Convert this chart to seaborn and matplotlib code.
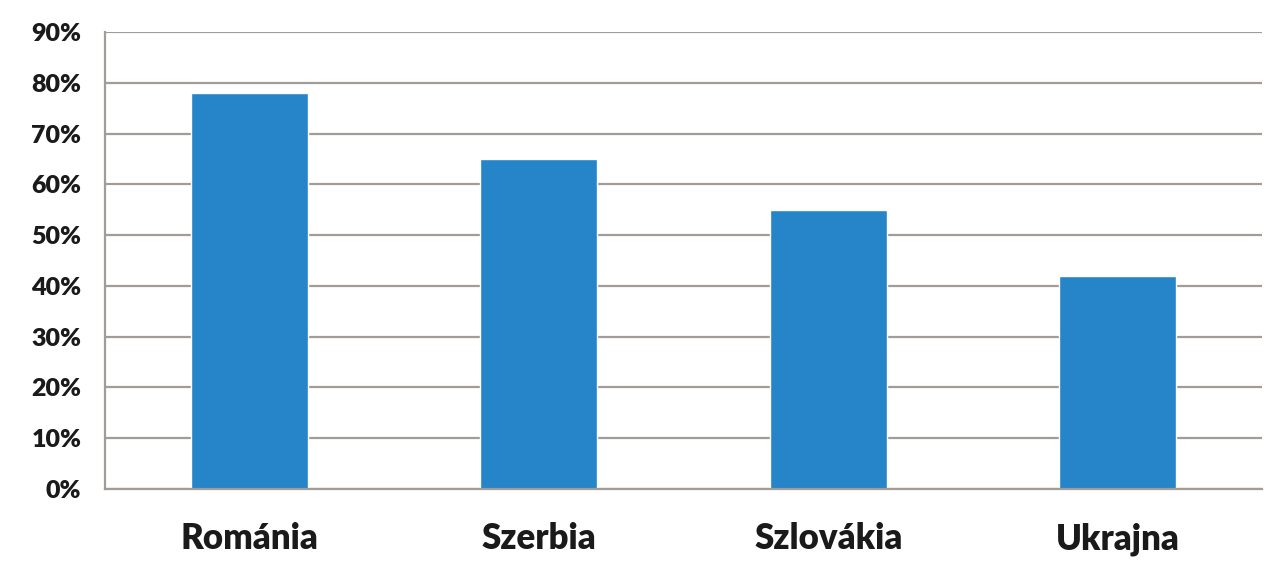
import matplotlib
matplotlib.use("Agg")
import matplotlib.pyplot as plt
import seaborn as sns
import pandas as pd
from matplotlib.ticker import FixedLocator, PercentFormatter

orszagok = ["Románia", "Szerbia", "Szlovákia", "Ukrajna"]
ertekek = [78, 65, 55, 42]

df = pd.DataFrame({"orszag": orszagok, "ertek": ertekek})

sns.set_style("white")
plt.rcParams['font.family'] = ['Lato', 'DejaVu Sans']

fig = plt.figure(figsize=(12.71, 5.65), dpi=100)
ax = fig.add_axes([0.0826, 0.1345, 0.9104, 0.8089])

sns.barplot(data=df, x="orszag", y="ertek", color="#2585c8", saturation=1,
            width=0.405, ax=ax)

ax.set_ylim(0, 90)
ax.set_xlim(-0.5, len(orszagok) - 0.5)
ax.set_yticks(range(0, 91, 10))
ax.yaxis.set_major_formatter(PercentFormatter(decimals=0))
ax.yaxis.grid(True, color="#a29b97", linewidth=1.6)
ax.set_axisbelow(True)

for s in ["top", "right"]:
    ax.spines[s].set_visible(False)
for s in ["left", "bottom"]:
    ax.spines[s].set_color("#a29b97")
    ax.spines[s].set_linewidth(1.6)

ax.tick_params(axis="y", which="major", length=8, width=1.6, color="#a29b97",
               direction="out", labelsize=18, pad=9)
ax.tick_params(axis="x", which="major", length=0, labelsize=25, pad=24)
ax.xaxis.set_minor_locator(FixedLocator([i - 0.5 for i in range(len(orszagok) + 1)]))
ax.tick_params(axis="x", which="minor", length=9, width=1.6, color="#a29b97",
               direction="out")
for lab in ax.get_yticklabels() + ax.get_xticklabels():
    lab.set_fontweight("heavy")
    lab.set_color("#1a1a1a")

ax.set_xlabel("")
ax.set_ylabel("")

fig.savefig("out.png", dpi=100)
